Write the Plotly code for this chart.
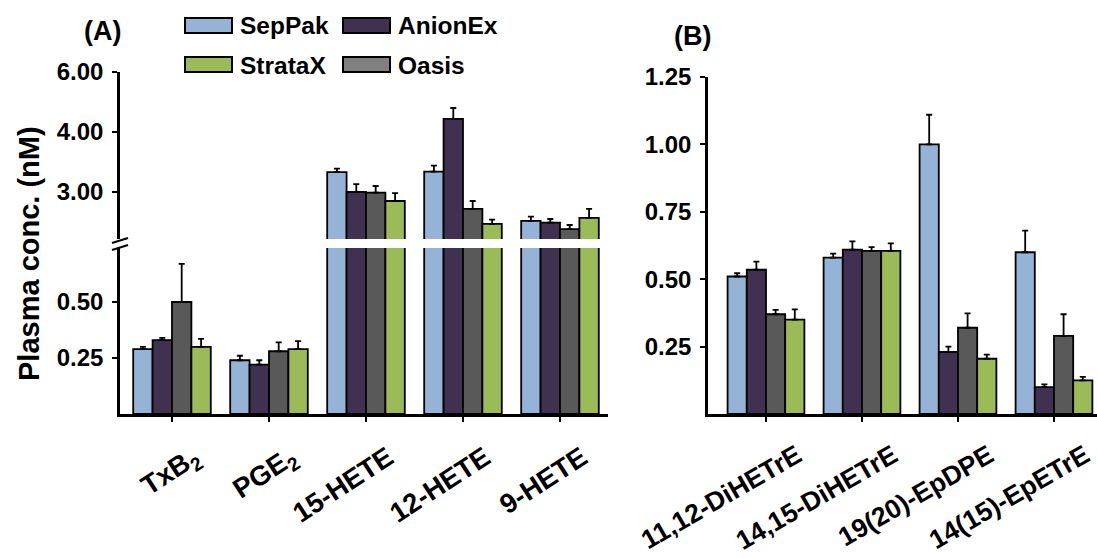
import plotly.graph_objects as go

# ---- data -------------------------------------------------------------
sources = ["SepPak", "AnionEx", "Oasis", "StrataX"]
bar_colors = ["#95B3D7", "#403151", "#595959", "#9BBB59"]
legend_swatch_colors = ["#95B3D7", "#403151", "#808080", "#9BBB59"]

categories_a = ["TxB<sub>2</sub>", "PGE<sub>2</sub>", "15-HETE", "12-HETE", "9-HETE"]
means_a = {
    "SepPak":  [0.29, 0.24, 3.33, 3.34, 2.52],
    "AnionEx": [0.33, 0.22, 3.00, 4.22, 2.49],
    "Oasis":   [0.50, 0.28, 2.99, 2.72, 2.38],
    "StrataX": [0.30, 0.29, 2.85, 2.47, 2.57],
}
errors_a = {
    "SepPak":  [0.010, 0.020, 0.06, 0.10, 0.07],
    "AnionEx": [0.010, 0.020, 0.13, 0.18, 0.06],
    "Oasis":   [0.170, 0.040, 0.11, 0.13, 0.07],
    "StrataX": [0.035, 0.035, 0.13, 0.07, 0.15],
}

categories_b = ["11,12-DiHETrE", "14,15-DiHETrE", "19(20)-EpDPE", "14(15)-EpETrE"]
means_b = {
    "SepPak":  [0.510, 0.580, 1.000, 0.600],
    "AnionEx": [0.535, 0.610, 0.230, 0.100],
    "Oasis":   [0.370, 0.605, 0.320, 0.290],
    "StrataX": [0.350, 0.605, 0.205, 0.125],
}
errors_b = {
    "SepPak":  [0.012, 0.015, 0.110, 0.080],
    "AnionEx": [0.030, 0.030, 0.020, 0.010],
    "Oasis":   [0.016, 0.014, 0.053, 0.080],
    "StrataX": [0.038, 0.028, 0.015, 0.013],
}

upper_ticks = [3, 4, 5]
upper_ticktext = ["3.00", "4.00", "6.00"]
lower_ticks = [0.25, 0.50]
lower_ticktext = ["0.25", "0.50"]
b_ticks = [0.25, 0.50, 0.75, 1.00, 1.25]
b_ticktext = ["0.25", "0.50", "0.75", "1.00", "1.25"]

# ---- geometry helpers (pixel -> paper) ---------------------------------
W, H = 1097, 558
FONT = "Liberation Sans, Arial, sans-serif"


def px_x(x):
    return x / W


def px_y(y):
    return 1 - y / H


fig = go.Figure()

# Panel A: drawn twice (lower and upper segment of the broken axis)
for xa, ya in (("x", "y"), ("x2", "y2")):
    for s, c in zip(sources, bar_colors):
        fig.add_trace(go.Bar(
            x=categories_a, y=means_a[s], name=s, marker_color=c,
            marker_line=dict(color="black", width=1.8),
            error_y=dict(type="data", array=errors_a[s], arrayminus=[0] * len(categories_a),
                         symmetric=False, color="black", thickness=1.8, width=3),
            xaxis=xa, yaxis=ya, showlegend=False,
        ))

# Panel B
for s, c in zip(sources, bar_colors):
    fig.add_trace(go.Bar(
        x=categories_b, y=means_b[s], name=s, marker_color=c,
        marker_line=dict(color="black", width=1.8),
        error_y=dict(type="data", array=errors_b[s], arrayminus=[0] * len(categories_b),
                     symmetric=False, color="black", thickness=1.8, width=3),
        xaxis="x3", yaxis="y3", showlegend=False,
    ))

tickfont = dict(family=FONT, size=24, color="black", weight="bold")
xlabfont_a = dict(family=FONT, size=27.5, color="black", weight="bold")
xlabfont_b = dict(family=FONT, size=26.5, color="black", weight="bold")

common_y = dict(showline=True, linecolor="black", linewidth=2.5, ticks="outside",
                ticklen=5, tickwidth=2, tickcolor="black", showgrid=False,
                zeroline=False, tickfont=tickfont, automargin=False,
                ticklabelstandoff=4)

fig.update_layout(
    width=W, height=H,
    margin=dict(l=0, r=0, t=0, b=0),
    paper_bgcolor="white", plot_bgcolor="white",
    barmode="group", bargap=0.2, bargroupgap=0,
    xaxis=dict(domain=[px_x(120), px_x(608)], range=[-0.536, 4.495], anchor="y",
               showline=True, linecolor="black", linewidth=3, ticks="outside",
               ticklen=5, tickwidth=2, tickcolor="black", tickangle=-33,
               tickfont=xlabfont_a, showgrid=False, automargin=False,
               ticklabelshift=22, ticklabelstandoff=9),
    xaxis2=dict(domain=[px_x(120), px_x(608)], range=[-0.536, 4.495], anchor="y2",
                matches="x", showline=False, showticklabels=False, ticks="",
                showgrid=False, automargin=False),
    xaxis3=dict(domain=[px_x(708), 1.0], range=[-0.604, 3.448], anchor="y3",
                showline=True, linecolor="black", linewidth=3, ticks="outside",
                ticklen=5, tickwidth=2, tickcolor="black", tickangle=-30,
                tickfont=xlabfont_b, showgrid=False, automargin=False,
                ticklabelshift=31, ticklabelstandoff=8),
    yaxis=dict(domain=[px_y(414), px_y(248)], range=[0, 0.741], anchor="x",
               tickvals=lower_ticks, ticktext=lower_ticktext, **common_y),
    yaxis2=dict(domain=[px_y(239), px_y(72)], range=[2.217, 5.0], anchor="x2",
                tickvals=upper_ticks, ticktext=upper_ticktext, **common_y),
    yaxis3=dict(domain=[px_y(414), px_y(77)], range=[0, 1.25], anchor="x3",
                tickvals=b_ticks, ticktext=b_ticktext, **common_y),
)

# Axis-break marks on the panel A value axis
for y0 in (243, 250):
    fig.add_shape(type="line", xref="paper", yref="paper",
                  x0=px_x(112), y0=px_y(y0), x1=px_x(128), y1=px_y(y0 - 5),
                  line=dict(color="black", width=2))

# Legend drawn as swatches with labels in two rows
legend_slots = {
    "SepPak": (185, 18), "AnionEx": (343, 18),
    "StrataX": (185, 57), "Oasis": (343, 57),
}
for s, sw in zip(sources, legend_swatch_colors):
    lx, ly = legend_slots[s]
    fig.add_shape(type="rect", xref="paper", yref="paper",
                  x0=px_x(lx), x1=px_x(lx + 47), y0=px_y(ly + 15), y1=px_y(ly),
                  fillcolor=sw, line=dict(color="black", width=2))
    fig.add_annotation(x=px_x(lx + 53), y=px_y(ly + 8), xref="paper", yref="paper",
                       text=s, showarrow=False, xanchor="left", yanchor="middle",
                       font=dict(family=FONT, size=24.5, color="black", weight="bold"))

# Panel letters
fig.add_annotation(x=px_x(102), y=px_y(31), xref="paper", yref="paper", text="(A)",
                   showarrow=False, xanchor="center", yanchor="middle",
                   font=dict(family=FONT, size=27, color="black", weight="bold"))
fig.add_annotation(x=px_x(692), y=px_y(36), xref="paper", yref="paper", text="(B)",
                   showarrow=False, xanchor="center", yanchor="middle",
                   font=dict(family=FONT, size=27, color="black", weight="bold"))

# Shared value-axis title
fig.add_annotation(x=px_x(29), y=px_y(254), xref="paper", yref="paper",
                   text="Plasma conc. (nM)", textangle=-90, showarrow=False,
                   xanchor="center", yanchor="middle",
                   font=dict(family=FONT, size=29, color="black", weight="bold"))

fig.write_html("out.html")
